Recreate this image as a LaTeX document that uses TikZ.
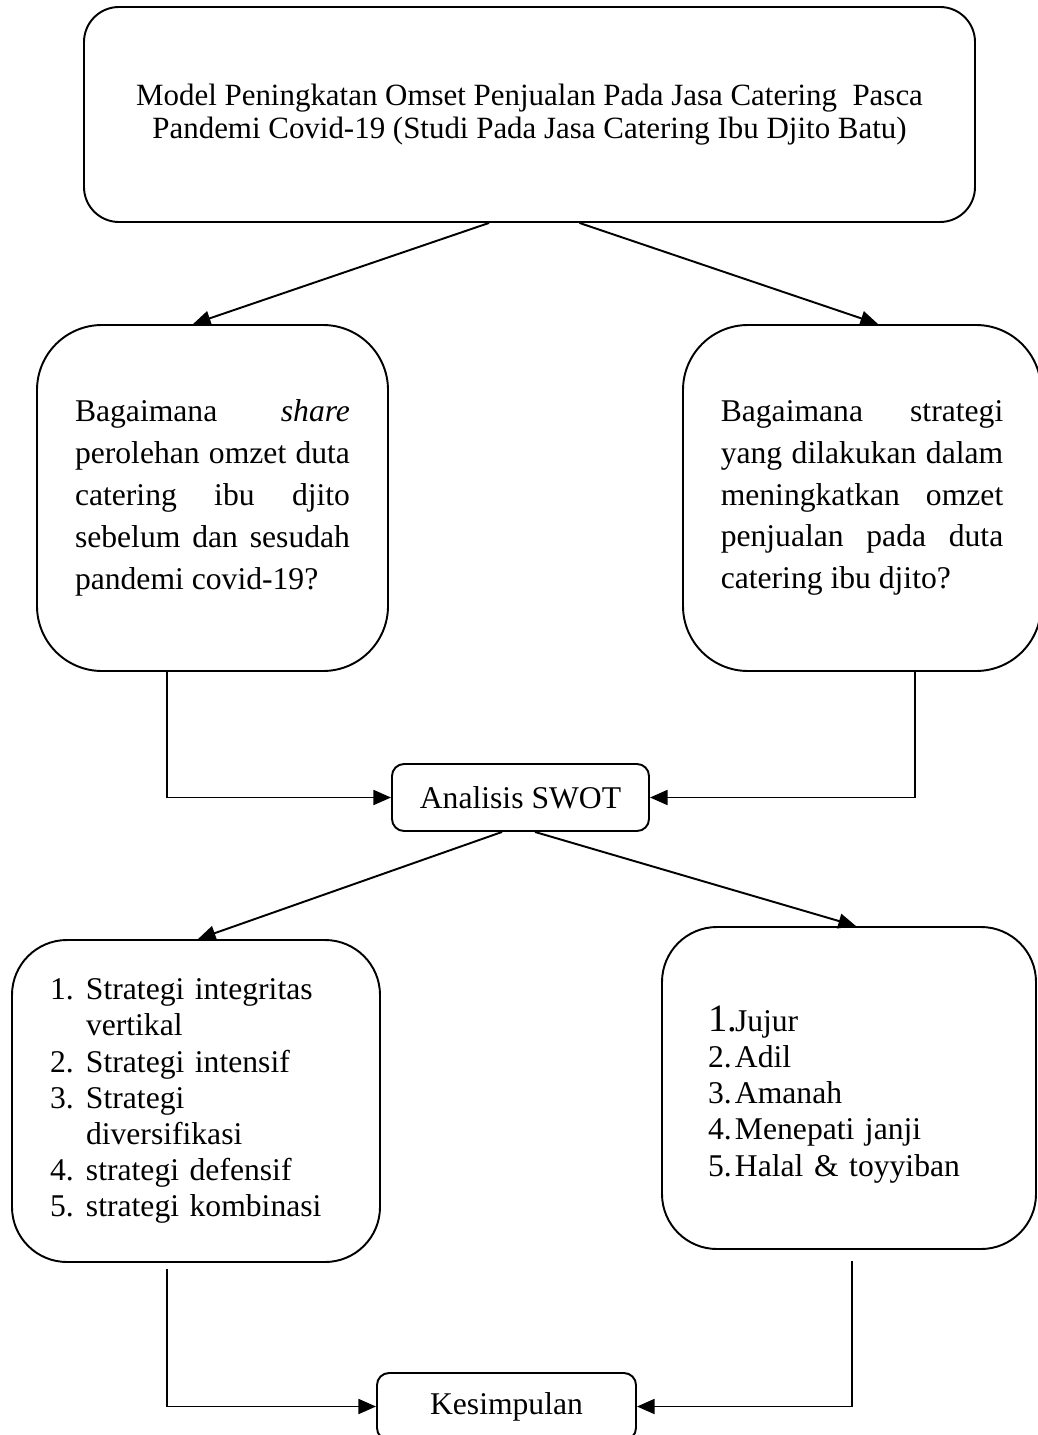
\documentclass[tikz,border=0pt]{standalone}
\usepackage{fontspec}
\setmainfont{Liberation Serif}
\usetikzlibrary{arrows.meta}
\tolerance=10000
\hyphenpenalty=10000

\begin{document}
\begin{tikzpicture}[
    box/.style={draw, line width=1.1pt, rounded corners=#1},
    box/.default=1.3cm,
    arr/.style={line width=1.1pt, -{Triangle[length=10pt,width=8.5pt]}},
    question/.style={align=justify, font=\fontsize{18}{23.8}\selectfont},
    listtext/.style={align=left, font=\fontsize{18}{20.6}\selectfont}
]
        \useasboundingbox (0,0) rectangle (20.74,-28.7);

        % Title
        \node[box=0.7cm, minimum width=17.82cm, minimum height=4.3cm, align=center,
              font=\fontsize{17.6}{19}\selectfont] (title) at (10.59,-2.29)
              {Model Peningkatan Omset Penjualan Pada Jasa Catering~~Pasca\\
               Pandemi Covid-19 (Studi Pada Jasa Catering Ibu Djito Batu)};

        % Questions
        \node[box, minimum width=7.02cm, minimum height=6.92cm, text width=5.5cm, question] (qa) at (4.25,-9.96)
              {Bagaimana \textit{share}\linebreak perolehan omzet duta\linebreak catering ibu djito\linebreak sebelum dan sesudah\linebreak pandemi covid-19?};
        \node[box, minimum width=7.16cm, minimum height=6.92cm, text width=5.65cm, question] (qb) at (17.24,-9.96)
              {Bagaimana strategi\linebreak yang dilakukan dalam\linebreak meningkatkan omzet\linebreak penjualan pada duta\linebreak catering ibu djito?};

        % SWOT
        \node[box=0.24cm, minimum width=5.14cm, minimum height=1.34cm, font=\fontsize{18}{21}\selectfont] (swot) at (10.41,-15.95) {Analisis SWOT};

        % Strategies
        \node[box=1.1cm, minimum width=7.36cm, minimum height=6.44cm, text width=5.84cm, listtext] (strat) at (3.92,-22.02)
              {\begin{tabular}{@{}p{0.72cm}@{}l@{}}
               1. & Strategi integritas\\
                  & vertikal\\
               2. & Strategi intensif\\
               3. & Strategi\\
                  & diversifikasi\\
               4. & strategi defensif\\
               5. & strategi kombinasi
               \end{tabular}};

        % Values
        \node[box=1.1cm, minimum width=7.48cm, minimum height=6.44cm, text width=5.64cm, listtext] (nilai) at (16.98,-21.76)
              {\begin{tabular}{@{}l@{}l@{}}
               \rule{0pt}{24pt}\makebox[0.46cm][l]{\fontsize{22}{22}\selectfont 1.} & Jujur\\
               \makebox[0.54cm][l]{2.} & Adil\\
               \makebox[0.54cm][l]{3.} & Amanah\\
               \makebox[0.54cm][l]{4.} & Menepati janji\\
               \makebox[0.54cm][l]{5.} & Halal \& toyyiban
               \end{tabular}};

        % Conclusion
        \node[box=0.24cm, minimum width=5.18cm, minimum height=1.34cm, font=\fontsize{18}{21}\selectfont] (kes) at (10.13,-28.13) {Kesimpulan};

        % Connectors
        \draw[arr] ([xshift=-0.81cm]title.south) -- ([xshift=-0.39cm]qa.north);
        \draw[arr] ([xshift=1.0cm]title.south) -- ([xshift=0.32cm]qb.north);
        \draw[arr] ([xshift=-0.91cm]qa.south) |- (swot.west);
        \draw[arr] ([xshift=1.06cm]qb.south) |- (swot.east);
        \draw[arr] ([xshift=-0.37cm]swot.south) -- ([xshift=0.04cm]strat.north);
        \draw[arr] ([xshift=0.29cm]swot.south) -- ([xshift=0.14cm]nilai.north);
        \draw[arr] ([xshift=-0.58cm,yshift=-0.12cm]strat.south) |- (kes.west);
        \draw[arr] ([xshift=0.06cm,yshift=-0.22cm]nilai.south) |- (kes.east);
    \end{tikzpicture}
\end{document}
